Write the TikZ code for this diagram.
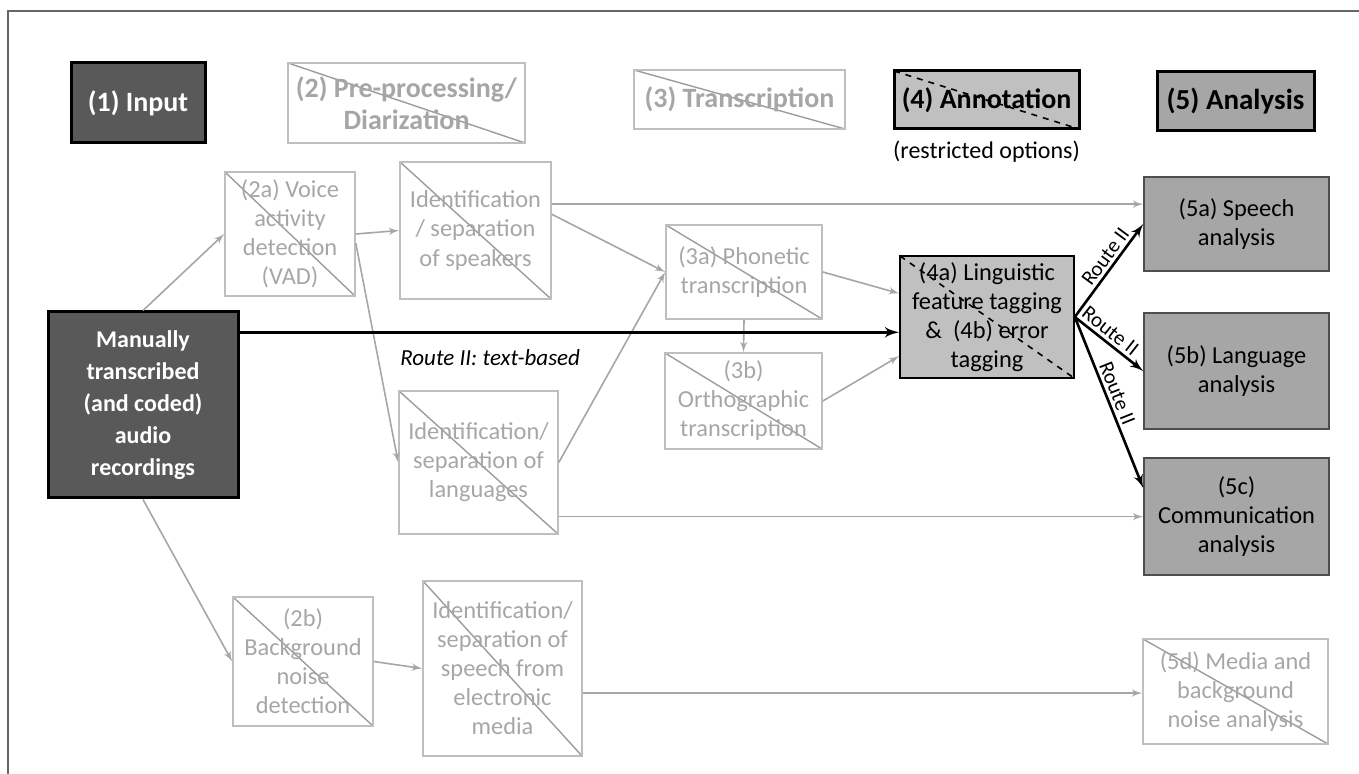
\documentclass[tikz,border=0pt]{standalone}
\usepackage{fontspec}
\setmainfont{Carlito}
\usetikzlibrary{arrows, positioning}
\definecolor{darkfill}{HTML}{595959}
\definecolor{tagfill}{HTML}{C0C0C0}
\definecolor{anafill}{HTML}{A6A6A6}
\definecolor{anaborder}{HTML}{4D4D4D}
\definecolor{boxgray}{HTML}{BFBFBF}
\definecolor{diaggray}{HTML}{9C9C9C}
\definecolor{txtgray}{HTML}{A6A6A6}
\definecolor{arrowgray}{HTML}{A6A6A6}
\definecolor{framegray}{HTML}{666666}

\begin{document}
\begin{tikzpicture}[x=0.5pt,y=-0.5pt]

\tikzset{crossed/.style = {shape=rectangle, draw=boxgray, line width=0.8pt, text=txtgray, align=center, inner sep=0pt,
  font=\fontsize{12.2}{14.5}\selectfont,
  path picture={\draw[diaggray, line width=0.7pt] (path picture bounding box.north west) -- (path picture bounding box.south east);}}}
\tikzset{headtext/.style = {font=\bfseries\fontsize{14}{16}\selectfont, line width=1.2pt}}
\tikzset{darkbox/.style = {shape=rectangle, fill=darkfill, draw=black, line width=1.5pt, text=white, align=center, inner sep=0pt,
  font=\bfseries\fontsize{12}{16}\selectfont}}
\tikzset{tagbox/.style = {shape=rectangle, fill=tagfill, draw=black, line width=0.8pt, align=center, inner sep=0pt,
  font=\fontsize{12.2}{14.5}\selectfont,
  path picture={\draw[black, dashed, line width=0.8pt] (path picture bounding box.north west) -- (path picture bounding box.south east);}}}
\tikzset{anabox/.style = {shape=rectangle, fill=anafill, draw=anaborder, line width=0.8pt, align=center, inner sep=0pt,
  font=\fontsize{12.2}{14.5}\selectfont}}
\tikzset{edge/.style = {->, > = latex', draw=arrowgray, line width=0.8pt}}
\tikzset{route/.style = {->, > = latex', black, line width=1.3pt}}
\tikzset{routelabel/.style = {sloped, above, inner sep=1.5pt, font=\fontsize{10.5}{11}\selectfont}}

\useasboundingbox (0,0) rectangle (1359,774);
\draw[framegray, line width=1.2pt] (8,774) -- (8,11) -- (1359,11);

% header row
\node[darkbox, font=\bfseries\fontsize{14}{16}\selectfont, minimum width=67pt, minimum height=40pt] (input) at (138,103) {(1) Input};
\node[crossed, headtext, minimum width=118.5pt, minimum height=40pt] (prep) at (406.5,103) {(2) Pre-processing/\\Diarization};
\node[crossed, headtext, minimum width=105.5pt, minimum height=29.5pt] (trans) at (739.5,99.5) {(3) Transcription};
\node[tagbox, line width=1.5pt, font=\bfseries\fontsize{14}{16}\selectfont, minimum width=92.5pt, minimum height=29pt] (annot) at (986.5,100) {(4) Annotation};
\node[below=5pt of annot, inner sep=0pt, font=\fontsize{12}{14.5}\selectfont] (restr) {(restricted options)};
\node[anabox, draw=black, line width=1.5pt, font=\bfseries\fontsize{14.5}{16}\selectfont, minimum width=78.5pt, minimum height=29.5pt] (ana) at (1235.5,101.5) {(5) Analysis};

% vertices
\node[darkbox, minimum width=95pt, minimum height=93pt] (main) at (143,405) {Manually\\transcribed\\(and coded)\\audio\\recordings};
\node[crossed, minimum width=65pt, minimum height=62pt] (vad) at (290,234) {(2a) Voice\\activity\\detection\\(VAD)};
\node[crossed, minimum width=75.5pt, minimum height=68.5pt] (spk) at (475.5,230.5) {Identification\\/ separation\\of speakers};
\node[crossed, minimum width=79.5pt, minimum height=71.5pt] (lang) at (478.5,462.5) {Identification/\\separation of\\languages};
\node[crossed, minimum width=70pt, minimum height=64.5pt] (noise) at (303,661.5) {(2b)\\Background\\noise\\detection};
\node[crossed, minimum width=79.5pt, minimum height=87.5pt] (media) at (502.5,668.5) {Identification/\\separation of\\speech from\\electronic\\media};
\node[crossed, minimum width=78pt, minimum height=47pt] (phon) at (744,272) {(3a) Phonetic\\transcription};
\node[crossed, minimum width=78.5pt, minimum height=48pt] (ortho) at (743.5,401) {(3b)\\Orthographic\\transcription};
\node[tagbox, minimum width=87pt, minimum height=61pt] (tag) at (987,317) {(4a) Linguistic\\feature tagging\\\&~~(4b) error\\tagging};
\node[anabox, minimum width=92.5pt, minimum height=47pt] (speech) at (1236.5,224) {(5a) Speech\\analysis};
\node[anabox, minimum width=92.5pt, minimum height=58pt] (langana) at (1236.5,371) {(5b) Language\\analysis};
\node[anabox, minimum width=92.5pt, minimum height=58.5pt] (comm) at (1236.5,516.5) {(5c)\\Communication\\analysis};
\node[crossed, minimum width=92.5pt, minimum height=52.5pt] (mediaana) at (1235.5,691.5) {(5d) Media and\\background\\noise analysis};

%edges
\draw[edge] (main.north) -- (vad.west);
\draw[edge] (main.south) -- (noise.west);
\draw[edge] (vad.east) -- (spk.west);
\draw[edge] (vad.-8) -- (lang.west);
\draw[edge] (spk.12) -- (phon.west);
\draw[edge] (spk.19) -- (spk.19 -| speech.west);
\draw[edge] (lang.east) -- (phon.west);
\draw[edge] (lang.-34) -- (lang.-34 -| comm.west);
\draw[edge] (noise.east) -- (media.west);
\draw[edge] (media.-17) -- (media.-17 -| mediaana.west);
\draw[edge] (phon.south) -- (ortho.north);
\draw[edge] (phon.east) -- (tag.165);
\draw[edge] (ortho.east) -- (tag.204);
\draw[route, line width=1.5pt] (main.37) -- (main.37 -| tag.west)
  node[below=8pt, pos=0.38, inner sep=0pt, font=\itshape\fontsize{11.5}{14}\selectfont] {Route II: text-based};
\draw[route] (tag.east) -- (speech.west) node[routelabel, pos=0.58] {Route II};
\draw[route] (tag.east) -- (langana.west) node[routelabel, pos=0.42] {Route II};
\draw[route] (tag.east) -- (comm.163) node[routelabel, pos=0.47] {Route II};
\end{tikzpicture}
\end{document}
